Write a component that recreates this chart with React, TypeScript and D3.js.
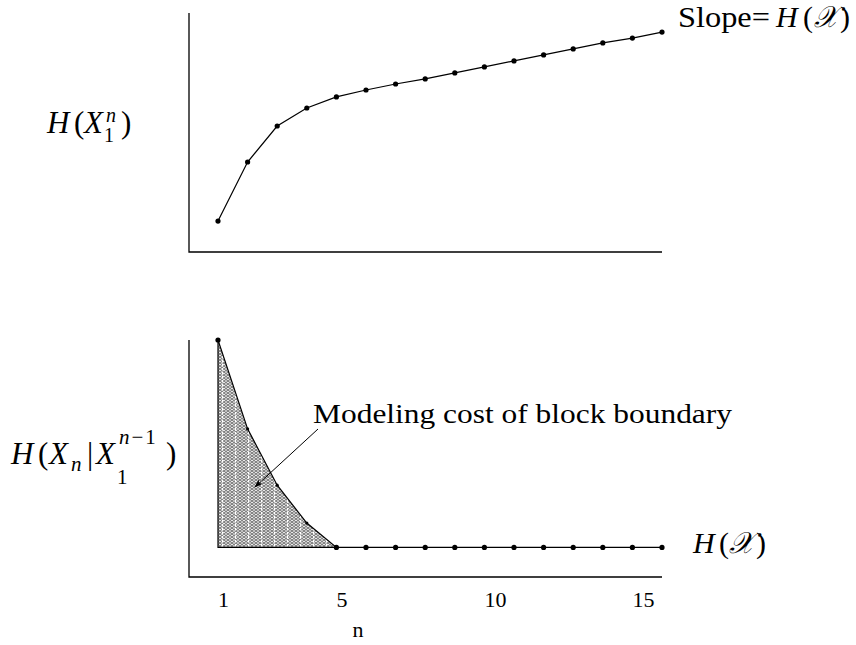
import React from "react";
import * as d3 from "d3";

// n = 1..16
const ns = d3.range(1, 17);
// H(X_1^n): block entropy, grows to slope H(X)
const blockEntropy = [1.03, 3.0, 4.2, 4.8, 5.17, 5.4, 5.6, 5.77, 5.97, 6.17, 6.37, 6.57, 6.77, 6.97, 7.13, 7.33];
// H(X_n | X_1^{n-1}): conditional entropy, flat at H(X) from n = 5
const condEntropy = [8.0, 5.0, 3.1, 1.82, 1.0, 1.0, 1.0, 1.0, 1.0, 1.0, 1.0, 1.0, 1.0, 1.0, 1.0, 1.0];
const xTicks = [1, 5, 10, 15];
const hatchUpTo = 5;

const serif = "'Liberation Serif', 'DejaVu Serif', serif";
const script = "'DejaVu Serif', serif";

const x = d3.scaleLinear().domain([1, 16]).range([218, 662]);
const yTop = d3.scaleLinear().domain([0, 8]).range([252, 12]);
const yBot = d3.scaleLinear().domain([0, 8]).range([577, 340]);

const lineTop = d3.line<number>().x((_, i) => x(ns[i])).y(d => yTop(d));
const lineBot = d3.line<number>().x((_, i) => x(ns[i])).y(d => yBot(d));
const hatchArea = d3
	.area<number>()
	.x((_, i) => x(ns[i]))
	.y0(yBot(condEntropy[condEntropy.length - 1]))
	.y1(d => yBot(d));

const T = (props: any) => <text fontFamily={serif} {...props} />;

export default function App() {
	const hatched = condEntropy.slice(0, hatchUpTo);
	const base = yBot(condEntropy[condEntropy.length - 1]);
	return (
		<svg width={856} height={645} style={{ position: "absolute", left: 0, top: 0, background: "#fff" }}>
			<defs>
				<pattern id="hatch" width="4" height="3" patternUnits="userSpaceOnUse">
					<rect width="4" height="3" fill="#e8e8e8" />
					<path d="M0,0 L2,1.5 L4,0 M0,3 L2,1.5 L4,3" stroke="#6a6a6a" strokeWidth="0.9" fill="none" />
				</pattern>
				<pattern id="stripes" width="13" height="4" patternUnits="userSpaceOnUse" x="222">
					<rect x="0" y="0" width="1.2" height="2.5" fill="#fff" />
				</pattern>
				<marker id="arrow" viewBox="0 0 10 10" refX="9" refY="5" markerWidth="9" markerHeight="9" orient="auto">
					<path d="M0,1.5 L10,5 L0,8.5 L3,5 Z" fill="#000" />
				</marker>
			</defs>

			{/* top panel */}
			<path d="M189,13 V252 H662" fill="none" stroke="#000" strokeWidth={1.3} />
			<path d={lineTop(blockEntropy) || ""} fill="none" stroke="#000" strokeWidth={1.2} />
			{blockEntropy.map((d, i) => (
				<circle key={i} cx={x(ns[i])} cy={yTop(d)} r={2.6} fill="#000" />
			))}

			{/* bottom panel */}
			<path d="M189,340 V577 H662" fill="none" stroke="#000" strokeWidth={1.3} />
			<path d={hatchArea(hatched) || ""} fill="url(#hatch)" />
			<path d={hatchArea(hatched) || ""} fill="url(#stripes)" />
			<path d={`M${x(1)},${yBot(condEntropy[0])} V${base} H${x(hatchUpTo)}`} fill="none" stroke="#000" strokeWidth={1.2} />
			<path d={lineBot(condEntropy) || ""} fill="none" stroke="#000" strokeWidth={1.2} />
			{condEntropy.map((d, i) => (
				<circle key={i} cx={x(ns[i])} cy={yBot(d)} r={i > 0 && i < 4 ? 1.6 : 2.6} fill="#000" />
			))}

			{/* x tick labels */}
			{xTicks.map(t => (
				<T key={t} x={x(t)} y={607} fontSize={22}>
					{t}
				</T>
			))}
			<T x={358} y={637} fontSize={22} textAnchor="middle">
				n
			</T>

			{/* top y label: H(X_1^n) */}
			<g fontSize={31}>
				<T x={47} y={133} fontStyle="italic">H</T>
				<T x={74} y={133}>(</T>
				<T x={84} y={133} fontStyle="italic">X</T>
				<T x={106} y={122} fontSize={20} fontStyle="italic">n</T>
				<T x={104} y={142} fontSize={20}>1</T>
				<T x={121} y={133}>)</T>
			</g>

			{/* bottom y label: H(X_n | X_1^{n-1}) */}
			<g fontSize={31}>
				<T x={11} y={464} fontStyle="italic">H</T>
				<T x={38} y={464}>(</T>
				<T x={49} y={464} fontStyle="italic">X</T>
				<T x={71} y={471} fontSize={21} fontStyle="italic">n</T>
				<T x={87} y={464}>|</T>
				<T x={96} y={464} fontStyle="italic">X</T>
				<T x={119} y={444} fontSize={21} letterSpacing={2}>
					<tspan fontStyle="italic">n</tspan>−1
				</T>
				<T x={117} y={484} fontSize={21}>1</T>
				<T x={166} y={464}>)</T>
			</g>

			{/* slope label */}
			<g fontSize={30}>
				<T x={678} y={27} textLength={92} lengthAdjust="spacingAndGlyphs">Slope=</T>
				<T x={776} y={27} fontStyle="italic">H</T>
				<T x={803} y={27}>(</T>
				<text x={814} y={27} fontFamily={script} fontStyle="italic" textLength={24} lengthAdjust="spacingAndGlyphs">𝒳</text>
				<T x={840} y={27}>)</T>
			</g>

			{/* H(X) level label */}
			<g fontSize={30}>
				<T x={693} y={553} fontStyle="italic">H</T>
				<T x={719} y={553}>(</T>
				<text x={729} y={553} fontFamily={script} fontStyle="italic" textLength={25} lengthAdjust="spacingAndGlyphs">𝒳</text>
				<T x={756} y={553}>)</T>
			</g>

			<T x={313} y={423} fontSize={28} textLength={419} lengthAdjust="spacingAndGlyphs">
				Modeling cost of block boundary
			</T>

			{/* annotation arrow */}
			<line x1={318} y1={429} x2={255} y2={487} stroke="#000" strokeWidth={1} markerEnd="url(#arrow)" />
		</svg>
	);
}
